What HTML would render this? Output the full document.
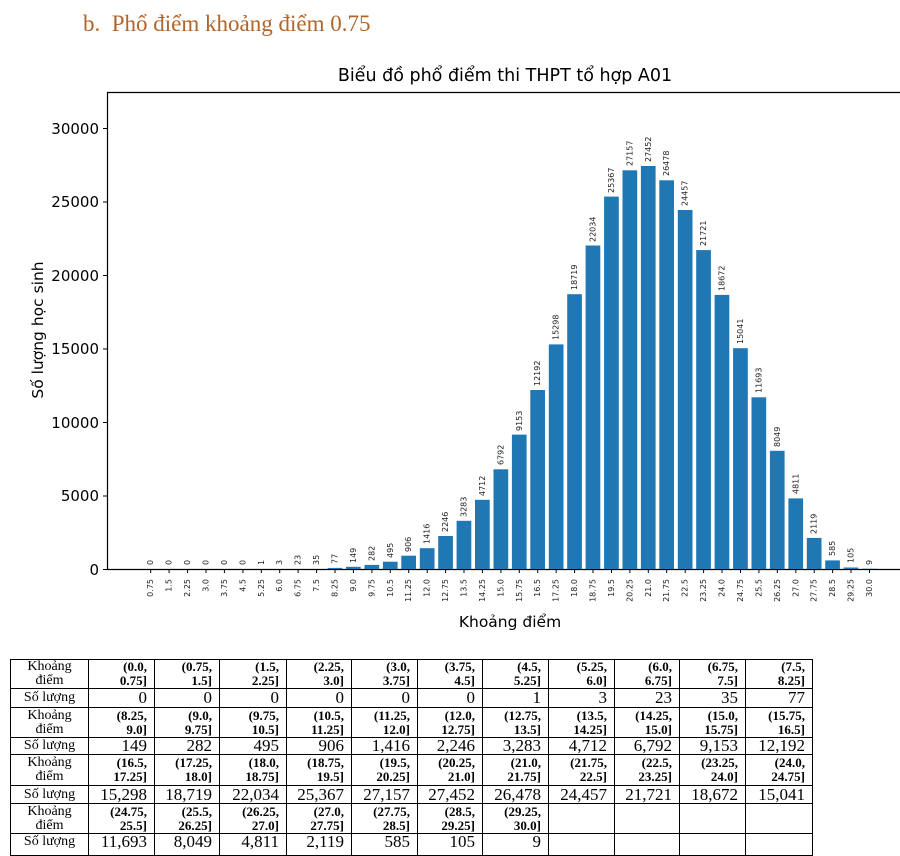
<!DOCTYPE html>
<html><head><meta charset="utf-8"><style>
html,body{margin:0;padding:0;background:#fff;width:900px;height:856px;overflow:hidden;position:relative}
.h{position:absolute;left:83px;top:11px;font:23px "Liberation Serif",serif;color:#b0652a;white-space:nowrap}
svg{position:absolute;left:0;top:0}
table{position:absolute;left:10px;top:659px;border-collapse:collapse;table-layout:fixed;font-family:"Liberation Serif",serif}
td{border:1px solid #000;padding:0 7px 0 2px;text-align:right;line-height:14px;overflow:hidden;white-space:nowrap}
td.f{text-align:center;font-size:14px;line-height:14px;padding:0}
tr.k td{font-size:13px;font-weight:bold}
tr.k td.f{font-weight:normal;font-size:14px}
tr.n td{font-size:17px;line-height:16px}
tr.n td.f{font-size:14px}
</style></head><body>
<div class="h">b.&nbsp;&nbsp;Phổ điểm khoảng điểm 0.75</div>
<svg width="900" height="856" xmlns="http://www.w3.org/2000/svg" font-family="DejaVu Sans, sans-serif">
<text x="505" y="81" font-size="17.5" text-anchor="middle" fill="#000">Biểu đồ phổ điểm thi THPT tổ hợp A01</text>
<path d="M107.5 92.5H900M107.5 92V569.5H900" stroke="#000" stroke-width="1.2" fill="none"/>
<g font-size="15" text-anchor="end" fill="#000">
<text x="99" y="575">0</text><text x="99" y="501">5000</text><text x="99" y="428">10000</text><text x="99" y="354">15000</text><text x="99" y="281">20000</text><text x="99" y="207">25000</text><text x="99" y="134">30000</text>
</g>
<path d="M103 569.5h4M103 496h4M103 422.5h4M103 349h4M103 275.5h4M103 202h4M103 128.5h4" stroke="#000"/>
<text transform="translate(43,330) rotate(-90)" font-size="15.5" text-anchor="middle">Số lượng học sinh</text>
<text x="510" y="627" font-size="15.5" text-anchor="middle">Khoảng điểm</text>
<g fill="#1f77b4">
<rect x="327.6" y="567.9" width="14.7" height="1.1"/>
<rect x="346.0" y="566.8" width="14.7" height="2.2"/>
<rect x="364.5" y="564.9" width="14.7" height="4.1"/>
<rect x="382.9" y="561.7" width="14.7" height="7.3"/>
<rect x="401.3" y="555.7" width="14.7" height="13.3"/>
<rect x="419.8" y="548.2" width="14.7" height="20.8"/>
<rect x="438.2" y="536.0" width="14.7" height="33.0"/>
<rect x="456.6" y="520.8" width="14.7" height="48.2"/>
<rect x="475.0" y="499.8" width="14.7" height="69.2"/>
<rect x="493.5" y="469.3" width="14.7" height="99.7"/>
<rect x="511.9" y="434.6" width="14.7" height="134.4"/>
<rect x="530.3" y="390.0" width="14.7" height="179.0"/>
<rect x="548.8" y="344.4" width="14.7" height="224.6"/>
<rect x="567.2" y="294.2" width="14.7" height="274.8"/>
<rect x="585.6" y="245.5" width="14.7" height="323.5"/>
<rect x="604.1" y="196.6" width="14.7" height="372.4"/>
<rect x="622.5" y="170.3" width="14.7" height="398.7"/>
<rect x="640.9" y="166.0" width="14.7" height="403.0"/>
<rect x="659.3" y="180.3" width="14.7" height="388.7"/>
<rect x="677.8" y="210.0" width="14.7" height="359.0"/>
<rect x="696.2" y="250.1" width="14.7" height="318.9"/>
<rect x="714.6" y="294.9" width="14.7" height="274.1"/>
<rect x="733.1" y="348.2" width="14.7" height="220.8"/>
<rect x="751.5" y="397.3" width="14.7" height="171.7"/>
<rect x="769.9" y="450.8" width="14.7" height="118.2"/>
<rect x="788.4" y="498.4" width="14.7" height="70.6"/>
<rect x="806.8" y="537.9" width="14.7" height="31.1"/>
<rect x="825.2" y="560.4" width="14.7" height="8.6"/>
<rect x="843.6" y="567.5" width="14.7" height="1.5"/>
<rect x="862.1" y="568.7" width="14.7" height="0.3"/>
</g>
<g font-size="8" fill="#222" dominant-baseline="middle">
<text transform="translate(150.7,565) rotate(-90)">0</text>
<text transform="translate(169.1,565) rotate(-90)">0</text>
<text transform="translate(187.6,565) rotate(-90)">0</text>
<text transform="translate(206.0,565) rotate(-90)">0</text>
<text transform="translate(224.4,565) rotate(-90)">0</text>
<text transform="translate(242.9,565) rotate(-90)">0</text>
<text transform="translate(261.3,565) rotate(-90)">1</text>
<text transform="translate(279.7,565) rotate(-90)">3</text>
<text transform="translate(298.1,565) rotate(-90)">23</text>
<text transform="translate(316.6,565) rotate(-90)">35</text>
<text transform="translate(335.0,564) rotate(-90)">77</text>
<text transform="translate(353.4,563) rotate(-90)">149</text>
<text transform="translate(371.9,561) rotate(-90)">282</text>
<text transform="translate(390.3,558) rotate(-90)">495</text>
<text transform="translate(408.7,552) rotate(-90)">906</text>
<text transform="translate(427.2,544) rotate(-90)">1416</text>
<text transform="translate(445.6,532) rotate(-90)">2246</text>
<text transform="translate(464.0,517) rotate(-90)">3283</text>
<text transform="translate(482.4,496) rotate(-90)">4712</text>
<text transform="translate(500.9,465) rotate(-90)">6792</text>
<text transform="translate(519.3,431) rotate(-90)">9153</text>
<text transform="translate(537.7,386) rotate(-90)">12192</text>
<text transform="translate(556.2,340) rotate(-90)">15298</text>
<text transform="translate(574.6,290) rotate(-90)">18719</text>
<text transform="translate(593.0,242) rotate(-90)">22034</text>
<text transform="translate(611.5,193) rotate(-90)">25367</text>
<text transform="translate(629.9,166) rotate(-90)">27157</text>
<text transform="translate(648.3,162) rotate(-90)">27452</text>
<text transform="translate(666.7,176) rotate(-90)">26478</text>
<text transform="translate(685.2,206) rotate(-90)">24457</text>
<text transform="translate(703.6,246) rotate(-90)">21721</text>
<text transform="translate(722.0,291) rotate(-90)">18672</text>
<text transform="translate(740.5,344) rotate(-90)">15041</text>
<text transform="translate(758.9,393) rotate(-90)">11693</text>
<text transform="translate(777.3,447) rotate(-90)">8049</text>
<text transform="translate(795.8,494) rotate(-90)">4811</text>
<text transform="translate(814.2,534) rotate(-90)">2119</text>
<text transform="translate(832.6,556) rotate(-90)">585</text>
<text transform="translate(851.0,563) rotate(-90)">105</text>
<text transform="translate(869.5,565) rotate(-90)">9</text>
</g>
<path stroke="#000" d="M150.7 569v4M169.1 569v4M187.6 569v4M206.0 569v4M224.4 569v4M242.9 569v4M261.3 569v4M279.7 569v4M298.1 569v4M316.6 569v4M335.0 569v4M353.4 569v4M371.9 569v4M390.3 569v4M408.7 569v4M427.2 569v4M445.6 569v4M464.0 569v4M482.4 569v4M500.9 569v4M519.3 569v4M537.7 569v4M556.2 569v4M574.6 569v4M593.0 569v4M611.5 569v4M629.9 569v4M648.3 569v4M666.7 569v4M685.2 569v4M703.6 569v4M722.0 569v4M740.5 569v4M758.9 569v4M777.3 569v4M795.8 569v4M814.2 569v4M832.6 569v4M851.0 569v4M869.5 569v4"/>
<g font-size="8" fill="#222" text-anchor="end" dominant-baseline="middle">
<text transform="translate(150.7,579) rotate(-90)">0.75</text>
<text transform="translate(169.1,579) rotate(-90)">1.5</text>
<text transform="translate(187.6,579) rotate(-90)">2.25</text>
<text transform="translate(206.0,579) rotate(-90)">3.0</text>
<text transform="translate(224.4,579) rotate(-90)">3.75</text>
<text transform="translate(242.9,579) rotate(-90)">4.5</text>
<text transform="translate(261.3,579) rotate(-90)">5.25</text>
<text transform="translate(279.7,579) rotate(-90)">6.0</text>
<text transform="translate(298.1,579) rotate(-90)">6.75</text>
<text transform="translate(316.6,579) rotate(-90)">7.5</text>
<text transform="translate(335.0,579) rotate(-90)">8.25</text>
<text transform="translate(353.4,579) rotate(-90)">9.0</text>
<text transform="translate(371.9,579) rotate(-90)">9.75</text>
<text transform="translate(390.3,579) rotate(-90)">10.5</text>
<text transform="translate(408.7,579) rotate(-90)">11.25</text>
<text transform="translate(427.2,579) rotate(-90)">12.0</text>
<text transform="translate(445.6,579) rotate(-90)">12.75</text>
<text transform="translate(464.0,579) rotate(-90)">13.5</text>
<text transform="translate(482.4,579) rotate(-90)">14.25</text>
<text transform="translate(500.9,579) rotate(-90)">15.0</text>
<text transform="translate(519.3,579) rotate(-90)">15.75</text>
<text transform="translate(537.7,579) rotate(-90)">16.5</text>
<text transform="translate(556.2,579) rotate(-90)">17.25</text>
<text transform="translate(574.6,579) rotate(-90)">18.0</text>
<text transform="translate(593.0,579) rotate(-90)">18.75</text>
<text transform="translate(611.5,579) rotate(-90)">19.5</text>
<text transform="translate(629.9,579) rotate(-90)">20.25</text>
<text transform="translate(648.3,579) rotate(-90)">21.0</text>
<text transform="translate(666.7,579) rotate(-90)">21.75</text>
<text transform="translate(685.2,579) rotate(-90)">22.5</text>
<text transform="translate(703.6,579) rotate(-90)">23.25</text>
<text transform="translate(722.0,579) rotate(-90)">24.0</text>
<text transform="translate(740.5,579) rotate(-90)">24.75</text>
<text transform="translate(758.9,579) rotate(-90)">25.5</text>
<text transform="translate(777.3,579) rotate(-90)">26.25</text>
<text transform="translate(795.8,579) rotate(-90)">27.0</text>
<text transform="translate(814.2,579) rotate(-90)">27.75</text>
<text transform="translate(832.6,579) rotate(-90)">28.5</text>
<text transform="translate(851.0,579) rotate(-90)">29.25</text>
<text transform="translate(869.5,579) rotate(-90)">30.0</text>
</g>
</svg>
<table>
<colgroup><col style="width:78px"><col style="width:66px"><col style="width:65px"><col style="width:67px"><col style="width:65px"><col style="width:66px"><col style="width:65px"><col style="width:66px"><col style="width:66px"><col style="width:65px"><col style="width:66px"><col style="width:67px"></colgroup>
<tr class="k" style="height:29px"><td class="f">Khoảng<br>điểm</td><td>(0.0,<br>0.75]</td><td>(0.75,<br>1.5]</td><td>(1.5,<br>2.25]</td><td>(2.25,<br>3.0]</td><td>(3.0,<br>3.75]</td><td>(3.75,<br>4.5]</td><td>(4.5,<br>5.25]</td><td>(5.25,<br>6.0]</td><td>(6.0,<br>6.75]</td><td>(6.75,<br>7.5]</td><td>(7.5,<br>8.25]</td></tr>
<tr class="n" style="height:19px"><td class="f">Số lượng</td><td>0</td><td>0</td><td>0</td><td>0</td><td>0</td><td>0</td><td>1</td><td>3</td><td>23</td><td>35</td><td>77</td></tr>
<tr class="k" style="height:30px"><td class="f">Khoảng<br>điểm</td><td>(8.25,<br>9.0]</td><td>(9.0,<br>9.75]</td><td>(9.75,<br>10.5]</td><td>(10.5,<br>11.25]</td><td>(11.25,<br>12.0]</td><td>(12.0,<br>12.75]</td><td>(12.75,<br>13.5]</td><td>(13.5,<br>14.25]</td><td>(14.25,<br>15.0]</td><td>(15.0,<br>15.75]</td><td>(15.75,<br>16.5]</td></tr>
<tr class="n" style="height:17px"><td class="f">Số lượng</td><td>149</td><td>282</td><td>495</td><td>906</td><td>1,416</td><td>2,246</td><td>3,283</td><td>4,712</td><td>6,792</td><td>9,153</td><td>12,192</td></tr>
<tr class="k" style="height:31px"><td class="f">Khoảng<br>điểm</td><td>(16.5,<br>17.25]</td><td>(17.25,<br>18.0]</td><td>(18.0,<br>18.75]</td><td>(18.75,<br>19.5]</td><td>(19.5,<br>20.25]</td><td>(20.25,<br>21.0]</td><td>(21.0,<br>21.75]</td><td>(21.75,<br>22.5]</td><td>(22.5,<br>23.25]</td><td>(23.25,<br>24.0]</td><td>(24.0,<br>24.75]</td></tr>
<tr class="n" style="height:18px"><td class="f">Số lượng</td><td>15,298</td><td>18,719</td><td>22,034</td><td>25,367</td><td>27,157</td><td>27,452</td><td>26,478</td><td>24,457</td><td>21,721</td><td>18,672</td><td>15,041</td></tr>
<tr class="k" style="height:30px"><td class="f">Khoảng<br>điểm</td><td>(24.75,<br>25.5]</td><td>(25.5,<br>26.25]</td><td>(26.25,<br>27.0]</td><td>(27.0,<br>27.75]</td><td>(27.75,<br>28.5]</td><td>(28.5,<br>29.25]</td><td>(29.25,<br>30.0]</td><td></td><td></td><td></td><td></td></tr>
<tr class="n" style="height:22px"><td class="f" style="vertical-align:top">Số lượng</td><td style="vertical-align:top">11,693</td><td style="vertical-align:top">8,049</td><td style="vertical-align:top">4,811</td><td style="vertical-align:top">2,119</td><td style="vertical-align:top">585</td><td style="vertical-align:top">105</td><td style="vertical-align:top">9</td><td></td><td></td><td></td><td></td></tr>
</table>
</body></html>
